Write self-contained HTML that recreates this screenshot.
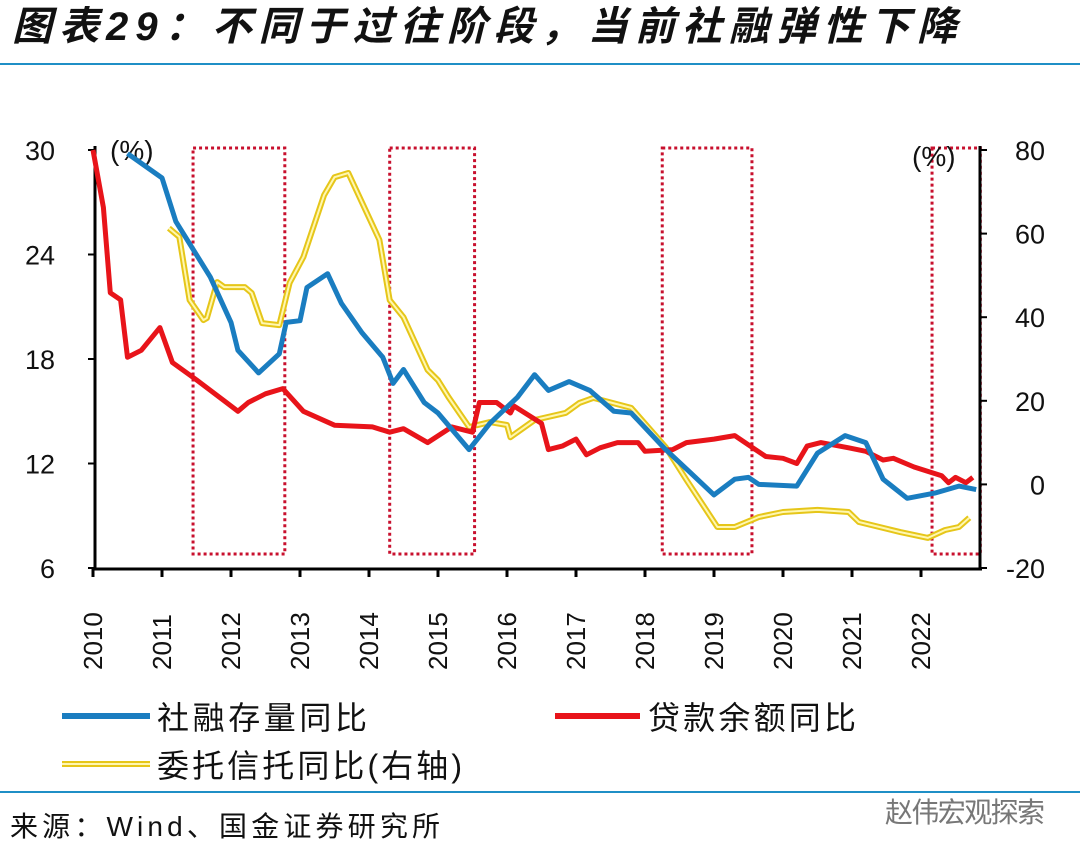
<!DOCTYPE html>
<html><head><meta charset="utf-8">
<style>
body{margin:0;background:#fff;width:1080px;height:861px;overflow:hidden;font-family:"Liberation Sans","Noto Sans CJK SC",sans-serif;}
svg{position:absolute;left:0;top:0}
</style></head>
<body>
<svg width="1080" height="861">
<text x="12" y="40" font-size="40" font-weight="bold" font-style="italic" fill="#111" textLength="945" lengthAdjust="spacing" font-family="Liberation Sans, Noto Sans CJK SC, sans-serif">图表29：不同于过往阶段，当前社融弹性下降</text>
<line x1="0" y1="64" x2="1080" y2="64" stroke="#1f8fc6" stroke-width="2"/>
<line x1="0" y1="792" x2="1080" y2="792" stroke="#1f8fc6" stroke-width="2"/>
<text x="10" y="836" font-size="28" fill="#111" textLength="430" lengthAdjust="spacing">来源：Wind、国金证券研究所</text>
<text x="885" y="822" font-size="28" fill="#777" textLength="160" lengthAdjust="spacing">赵伟宏观探索</text>
<g id="boxes"></g>
<g id="axes"></g>
<g id="series"></g>
<g id="legend"></g>
</svg>
<script>
const NS="http://www.w3.org/2000/svg";
const yearTicks=[2010,2011,2012,2013,2014,2015,2016,2017,2018,2019,2020,2021,2022];
const leftTicks=[30,24,18,12,6];
const rightTicks=[80,60,40,20,0,-20];
const sfTime=[2010.5,2011.0,2011.2,2011.7,2012.0,2012.1,2012.4,2012.7,2012.8,2013.0,2013.1,2013.4,2013.6,2013.9,2014.2,2014.35,2014.5,2014.8,2015.0,2015.45,2015.75,2016.15,2016.4,2016.6,2016.9,2017.2,2017.55,2017.8,2018.3,2018.65,2019.0,2019.3,2019.5,2019.65,2020.2,2020.5,2020.9,2021.2,2021.45,2021.8,2022.2,2022.55,2022.8];
const sfValue=[29.8,28.4,25.9,22.7,20.1,18.5,17.2,18.3,20.1,20.2,22.1,22.9,21.2,19.5,18.1,16.6,17.4,15.5,14.9,12.8,14.3,15.8,17.1,16.2,16.7,16.2,15.0,14.9,12.8,11.5,10.2,11.1,11.2,10.8,10.7,12.6,13.6,13.2,11.1,10.0,10.3,10.7,10.5];
const loanTime=[2010.0,2010.15,2010.25,2010.4,2010.5,2010.7,2010.97,2011.15,2011.5,2011.9,2012.1,2012.25,2012.5,2012.75,2013.05,2013.5,2014.05,2014.3,2014.5,2014.85,2015.2,2015.5,2015.6,2015.85,2016.05,2016.1,2016.5,2016.6,2016.8,2017.0,2017.15,2017.35,2017.6,2017.9,2018.0,2018.4,2018.6,2019.0,2019.3,2019.6,2019.75,2020.0,2020.2,2020.35,2020.55,2020.95,2021.2,2021.45,2021.6,2021.9,2022.3,2022.4,2022.5,2022.65,2022.75];
const loanValue=[30,26.7,21.8,21.4,18.1,18.5,19.8,17.8,16.8,15.6,15.0,15.5,16.0,16.3,15.0,14.2,14.1,13.8,14.0,13.2,14.1,13.8,15.5,15.5,14.9,15.3,14.3,12.8,13.0,13.4,12.5,12.9,13.2,13.2,12.7,12.8,13.2,13.4,13.6,12.8,12.4,12.3,12.0,13.0,13.2,12.9,12.7,12.2,12.3,11.8,11.3,10.9,11.2,10.9,11.2];
const trustTime=[2011.1,2011.25,2011.4,2011.6,2011.65,2011.8,2011.9,2012.2,2012.3,2012.45,2012.7,2012.85,2013.05,2013.35,2013.5,2013.7,2013.95,2014.15,2014.3,2014.5,2014.85,2015.0,2015.15,2015.45,2015.75,2016.0,2016.05,2016.4,2016.85,2017.05,2017.25,2017.8,2018.3,2018.6,2019.05,2019.3,2019.65,2020.0,2020.5,2020.95,2021.1,2021.7,2022.1,2022.35,2022.55,2022.7];
const trustValue=[61.3,59.2,44.1,39.3,39.8,48.4,47.2,47.2,45.8,38.6,38.1,48.2,54.4,69.2,73.5,74.5,65.6,58.5,44.1,40.0,27.4,24.9,20.9,13.7,14.9,14.2,11.3,15.4,17.1,19.5,20.7,18.3,8.9,1.1,-10.2,-10.2,-7.8,-6.6,-6.1,-6.6,-9.0,-11.4,-12.8,-10.9,-10.2,-8.0];
const boxRanges=[[2011.45,2012.78],[2014.3,2015.53],[2018.25,2019.55],[2022.16,2022.86]];

const X=t=>93+(t-2010)*69;
const YL=v=>150+(30-v)*(418/24);
const YR=v=>150+(80-v)*4.18;
function el(tag,attrs,parent,txt){const e=document.createElementNS(NS,tag);for(const k in attrs)e.setAttribute(k,attrs[k]);if(txt!==undefined)e.textContent=txt;parent.appendChild(e);return e;}
const axes=document.getElementById('axes');
let a=el('line',{x1:95,y1:146,x2:95,y2:570,stroke:'#000','stroke-width':3},axes);


a=el('line',{x1:980,y1:146,x2:980,y2:570,stroke:'#000','stroke-width':3},axes);


a=el('line',{x1:93,y1:569,x2:982,y2:569,stroke:'#000','stroke-width':3},axes);


leftTicks.forEach(v=>{
  const t=el('text',{x:55,y:YL(v)+10,'font-size':27,'text-anchor':'end',fill:'#111'},axes,String(v));
  
  
  el('line',{x1:88,y1:YL(v),x2:95,y2:YL(v),stroke:'#000','stroke-width':2},axes);
});
rightTicks.forEach(v=>{
  const t=el('text',{x:1045,y:YR(v)+10,'font-size':27,'text-anchor':'end',fill:'#111'},axes,String(v));
  
  
  el('line',{x1:980,y1:YR(v),x2:987,y2:YR(v),stroke:'#000','stroke-width':2},axes);
});
yearTicks.forEach(y=>{
  el('line',{x1:X(y),y1:569,x2:X(y),y2:577,stroke:'#000','stroke-width':3},axes);
  const t=el('text',{transform:`translate(${X(y)+9},670) rotate(-90)`,'font-size':26,fill:'#111'},axes,String(y));
  
  
});
let u=el('text',{x:110,y:160,'font-size':28,fill:'#111'},axes,'(%)');


u=el('text',{x:912,y:166,'font-size':28,fill:'#111'},axes,'(%)');


const boxes=document.getElementById('boxes');
boxRanges.forEach(r=>{
  const b=el('rect',{x:X(r[0]),y:148,width:X(r[1])-X(r[0]),height:406,fill:'none',stroke:'#c8102e','stroke-width':3,'stroke-dasharray':'3,3'},boxes);
  
  
});
const ser=document.getElementById('series');
function pts(ts,vs,Y){return ts.map((t,i)=>X(t).toFixed(1)+','+Y(vs[i]).toFixed(1)).join(' ');}
let p=el('polyline',{points:pts(trustTime,trustValue,YR),fill:'none',stroke:'#e6c619','stroke-width':6,'stroke-linejoin':'round'},ser);


p=el('polyline',{points:pts(trustTime,trustValue,YR),fill:'none',stroke:'#fff7b0','stroke-width':2,'stroke-linejoin':'round'},ser);


p=el('polyline',{points:pts(loanTime,loanValue,YL),fill:'none',stroke:'#e8141a','stroke-width':5,'stroke-linejoin':'round'},ser);


p=el('polyline',{points:pts(sfTime,sfValue,YL),fill:'none',stroke:'#1a7dc0','stroke-width':5,'stroke-linejoin':'round'},ser);


const lg=document.getElementById('legend');
let l=el('line',{x1:62,y1:716,x2:150,y2:716,stroke:'#1a7dc0','stroke-width':6},lg);


l=el('text',{x:157,y:729,'font-size':32,fill:'#111',textLength:210,lengthAdjust:'spacing'},lg,'社融存量同比');


l=el('line',{x1:555,y1:716,x2:640,y2:716,stroke:'#e8141a','stroke-width':6},lg);


l=el('text',{x:648,y:729,'font-size':32,fill:'#111',textLength:208,lengthAdjust:'spacing'},lg,'贷款余额同比');


l=el('line',{x1:62,y1:764,x2:150,y2:764,stroke:'#e6c619','stroke-width':6},lg);


el('line',{x1:62,y1:764,x2:150,y2:764,stroke:'#fff7b0','stroke-width':2},lg);
l=el('text',{x:157,y:777,'font-size':32,fill:'#111',textLength:305,lengthAdjust:'spacing'},lg,'委托信托同比(右轴)');


</script>
</body></html>
